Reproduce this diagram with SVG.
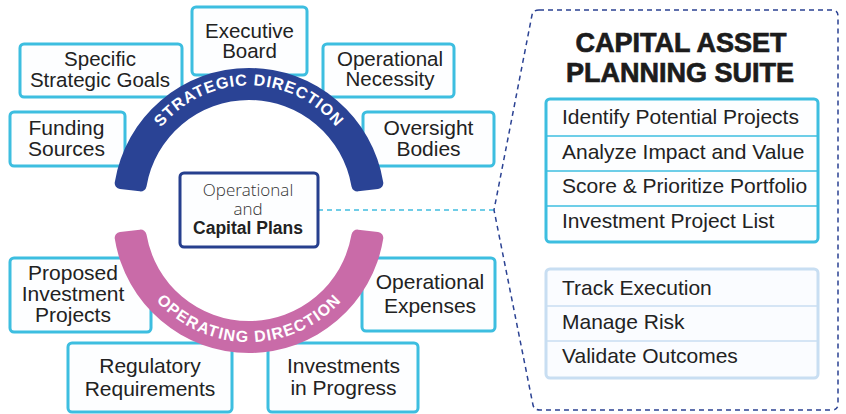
<svg xmlns="http://www.w3.org/2000/svg" width="846" height="414" viewBox="0 0 846 414">
<style>
.box{fill:#fdfeff;stroke:#3dbee0;stroke-width:3}
.t{font-family:"Liberation Sans",Arial,sans-serif;font-size:21px;fill:#222;text-anchor:middle}
.t2{font-size:20.5px}
.lt{font-family:"Liberation Sans",Arial,sans-serif;font-size:21px;fill:#222}
.arct{font-family:"Liberation Sans",Arial,sans-serif;font-size:16px;font-weight:bold;fill:#fff;text-anchor:middle}
.title{font-family:"Liberation Sans",Arial,sans-serif;font-size:27px;font-weight:bold;fill:#1c1c1c;stroke:#1c1c1c;stroke-width:0.7;text-anchor:middle}
.div1{stroke:#3dbee0;stroke-width:1.5}
.div2{stroke:#c8def2;stroke-width:1.5}
</style>
<defs>
<path id="sp" d="M141.28 165.52 A112.5 112.5 0 0 1 356.72 165.52"/>
<path id="op" d="M131.54 259.75 A125 125 0 0 0 366.46 259.75"/>
</defs>
<rect width="846" height="414" fill="#fff"/>

<g id="connectors">
<path d="M318 210 H494" fill="none" stroke="#41bde0" stroke-width="1.5" stroke-dasharray="5 4"/>
</g>

<g id="suite-panel">
<path d="M539 10 H832 Q838 10 838 16 V404 Q838 410 832 410 H540 Q534 410 533 405 L494 210 L532 15 Q533 10 539 10 Z" fill="none" stroke="#2b4293" stroke-width="1.5" stroke-dasharray="5 4"/>
<text class="title" x="681" y="52">CAPITAL ASSET</text>
<text class="title" x="680" y="82">PLANNING SUITE</text>
</g>

<g id="list-planning">
<rect x="546" y="99" width="272" height="143" rx="4" fill="#fdfeff" stroke="#3dbee0" stroke-width="3"/>
<line class="div1" x1="547" y1="136" x2="817" y2="136"/>
<line class="div1" x1="547" y1="171" x2="817" y2="171"/>
<line class="div1" x1="547" y1="206" x2="817" y2="206"/>
<text class="lt" x="562" y="124">Identify Potential Projects</text>
<text class="lt" x="562" y="159">Analyze Impact and Value</text>
<text class="lt" x="562" y="193">Score &amp; Prioritize Portfolio</text>
<text class="lt" x="562" y="228">Investment Project List</text>
</g>

<g id="list-execution">
<rect x="546" y="269" width="272" height="109" rx="4" fill="#fafcff" stroke="#c8def2" stroke-width="3"/>
<line class="div2" x1="547" y1="306" x2="817" y2="306"/>
<line class="div2" x1="547" y1="341" x2="817" y2="341"/>
<text class="lt" x="562" y="295">Track Execution</text>
<text class="lt" x="562" y="329">Manage Risk</text>
<text class="lt" x="562" y="363">Validate Outcomes</text>
</g>

<g id="executive-board">
<rect class="box" x="192" y="7" width="115" height="68" rx="4"/>
<text class="t t2" x="249.5" y="37.5">Executive</text>
<text class="t t2" x="249.5" y="57.5">Board</text>
</g>
<g id="specific-strategic-goals">
<rect class="box" x="20" y="44" width="162" height="53" rx="4"/>
<text class="t t2" x="100" y="66">Specific</text>
<text class="t t2" x="100" y="87">Strategic Goals</text>
</g>
<g id="funding-sources">
<rect class="box" x="10" y="112" width="115" height="54" rx="4"/>
<text class="t" x="66.5" y="135">Funding</text>
<text class="t" x="66.5" y="156">Sources</text>
</g>
<g id="operational-necessity">
<rect class="box" x="323" y="44" width="131" height="53" rx="4"/>
<text class="t t2" x="390" y="65.5">Operational</text>
<text class="t t2" x="390" y="86">Necessity</text>
</g>
<g id="oversight-bodies">
<rect class="box" x="363" y="112" width="131" height="54" rx="4"/>
<text class="t" x="428.5" y="135">Oversight</text>
<text class="t" x="428.5" y="156">Bodies</text>
</g>
<g id="proposed-investment-projects">
<rect class="box" x="10" y="258" width="141" height="74" rx="4"/>
<text class="t" x="73" y="280">Proposed</text>
<text class="t" x="73" y="301">Investment</text>
<text class="t" x="73" y="322">Projects</text>
</g>
<g id="regulatory-requirements">
<rect class="box" x="68" y="343" width="164" height="69" rx="4"/>
<text class="t" x="150" y="373">Regulatory</text>
<text class="t" x="150" y="396">Requirements</text>
</g>
<g id="investments-in-progress">
<rect class="box" x="268" y="343" width="150" height="69" rx="4"/>
<text class="t" x="343.5" y="373">Investments</text>
<text class="t" x="343.5" y="395">in Progress</text>
</g>
<g id="operational-expenses">
<rect class="box" x="362" y="258" width="133" height="73" rx="4"/>
<text class="t" x="430" y="289">Operational</text>
<text class="t" x="430" y="313">Expenses</text>
</g>

<g id="strategic-direction">
<path d="M120 189.07 A6 6 0 0 1 114.77 182.15 A136 136 0 0 1 383.23 182.15 A6 6 0 0 1 378 189.07 L358.11 191.37 A6 6 0 0 1 351.51 186.43 A104 104 0 0 0 146.49 186.43 A6 6 0 0 1 139.89 191.37 Z" fill="#2a4395"/>
<text class="arct" letter-spacing="0.9"><textPath href="#sp" startOffset="50%">STRATEGIC DIRECTION</textPath></text>
</g>
<g id="operating-direction">
<path d="M120 231.93 A6 6 0 0 0 114.77 238.85 A136 136 0 0 0 383.23 238.85 A6 6 0 0 0 378 231.93 L358.11 229.63 A6 6 0 0 0 351.51 234.57 A104 104 0 0 1 146.49 234.57 A6 6 0 0 0 139.89 229.63 Z" fill="#c96ba8"/>
<text class="arct" letter-spacing="1.2"><textPath href="#op" startOffset="50%">OPERATING DIRECTION</textPath></text>
</g>

<g id="operational-capital-plans">
<rect x="180" y="173" width="138" height="74" rx="4" fill="#fdfeff" stroke="#263f8e" stroke-width="3"/>
<text x="248" y="196" style="font-family:'Open Sans','Liberation Sans',sans-serif;font-size:17px;font-weight:300;fill:#333;text-anchor:middle">Operational</text>
<text x="248" y="215" style="font-family:'Open Sans','Liberation Sans',sans-serif;font-size:17px;font-weight:300;fill:#333;text-anchor:middle">and</text>
<text x="248" y="234" style="font-family:'Liberation Sans',Arial,sans-serif;font-size:17.5px;font-weight:bold;fill:#222;text-anchor:middle">Capital Plans</text>
</g>
</svg>
